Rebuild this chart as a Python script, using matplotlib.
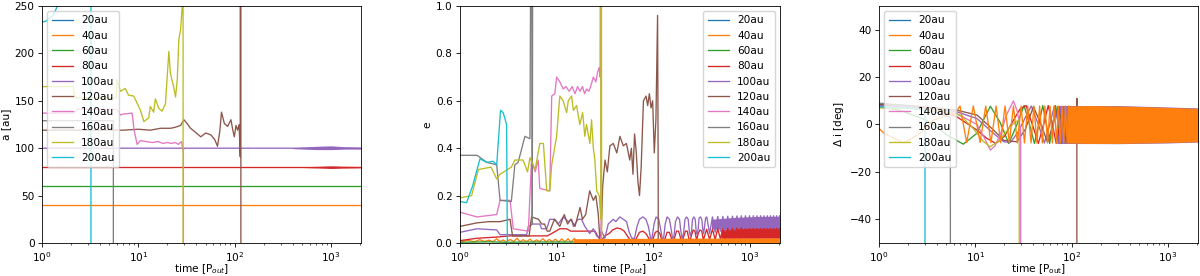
import matplotlib
matplotlib.use('Agg')
import matplotlib.pyplot as plt

# the original looks like a bigger figure shrunk to ~0.76, so scale everything
plt.rcParams['font.size'] = 7.6
plt.rcParams['lines.linewidth'] = 0.95
plt.rcParams['axes.linewidth'] = 0.6
plt.rcParams['axes.labelpad'] = 2.5
for ax_name in ['xtick', 'ytick']:
    plt.rcParams[ax_name + '.major.size'] = 2.7
    plt.rcParams[ax_name + '.minor.size'] = 1.5
    plt.rcParams[ax_name + '.major.width'] = 0.6
    plt.rcParams[ax_name + '.minor.width'] = 0.45
    plt.rcParams[ax_name + '.major.pad'] = 2.6
    plt.rcParams[ax_name + '.minor.pad'] = 2.6

labels = ['20au', '40au', '60au', '80au', '100au', '120au', '140au', '160au', '180au', '200au']
colors = ['C0', 'C1', 'C2', 'C3', 'C4', 'C5', 'C6', 'C7', 'C8', 'C9']
t_end = 2050

# ---------------- semi-major axis a [au] ----------------
a20_t, a20 = [], []
a40_t, a40 = [1, t_end], [40, 40]
a60_t, a60 = [1, t_end], [60, 60]
a80_t, a80 = [1, t_end], [80, 80]
a100_t, a100 = [1, 29, 29.5, 30, t_end], [100, 100, 99, 100, 100]
a120_t = [1, 3, 7, 10, 13.3, 17, 21.6, 24, 27.4, 29.7, 32, 34.8, 40, 44.4, 50, 56.6, 62, 66.2, 70,
          72.8, 78, 84.3, 91.3, 95, 98.9, 103, 107, 111, 114, 115.5, 116]
a120 = [119, 119, 119, 120, 119, 121, 121, 122, 124, 130, 126, 121, 116, 112, 116, 114, 109, 102, 118,
        138, 126, 123, 130, 120, 112, 124, 119, 125, 91, 1e4, -1e4]
a140_t = [1, 2.1, 2.3, 6.0, 6.5, 7.0, 8.6, 9.0, 9.7, 10.5, 12, 14, 16, 18, 20, 22, 24, 26, 28, 28.8, 29.3, 30.5]
a140 = [137, 137, 141, 141, 135, 136, 137, 120, 104, 108, 107, 106, 107, 105, 106, 105, 106, 104, 107, 100, 95, -1e4]
a160_t, a160 = [1, 5.5, 5.6], [129, 129, -1e4]
a180_t = [1, 2.1, 2.2, 5.9, 6.0, 6.5, 7.3, 7.9, 8.95, 10.5, 11.4, 12.8, 13.3, 14.4, 15, 16.3, 17.6, 19.1,
          20.7, 21.5, 23.3, 24.3, 25.3, 26.3, 27.4, 28.5, 29.0, 29.2]
a180 = [165, 165, 153, 153, 172, 160, 163, 156, 155, 140, 128, 132, 144, 138, 152, 142, 139, 147,
        202, 179, 164, 154, 172, 215, 225, 250, 1e4, -1e4]
a200_t, a200 = [1, 1.1, 1.3, 1.48, 1.6, 3.2, 3.24], [233, 234, 240, 252, 400, 1e4, -1e4]

# noisy bits at late times
a100_band_t = [400, 700, 1000, 1400, t_end]
a100_band_lo = [99.5, 98.5, 98.5, 99, 99]
a100_band_hi = [100.5, 102, 102.5, 101.5, 101]
a80_band_t = [500, 800, 1000, 1300, t_end]
a80_band_lo = [79.6, 79, 78.6, 79, 79.3]
a80_band_hi = [80.4, 81, 81.4, 81, 80.7]

# ---------------- eccentricity e ----------------
e20_t, e20 = [], []
e40_t = [1, 1.2, 1.4, 1.6, 1.8, 2.0, 2.2, 2.4, 2.6, 2.8, 3.0, 3.3, 3.6, 3.9, 4.2, 4.5, 4.9, 5.3,
         5.7, 6.2, 6.7, 7.2, 7.8, 8.4, 9.0, 9.7, 10.5, 11.3, 12.2, 13.1, 14.1, 15.2, 16.4]
e40 = [0.004, 0.012, 0.005, 0.014, 0.006, 0.012, 0.005, 0.018, 0.006, 0.013, 0.005, 0.015, 0.006, 0.02,
       0.005, 0.014, 0.006, 0.016, 0.005, 0.013, 0.006, 0.018, 0.005, 0.015, 0.006, 0.016, 0.004, 0.017,
       0.005, 0.018, 0.004, 0.019, 0.005]
e40_band_t = [15, 100, t_end]
e40_band_lo = [0.0, 0.0, 0.0]
e40_band_hi = [0.018, 0.02, 0.021]
e60_t, e60 = [1, 2, 3, 5, t_end], [0.003, 0.005, 0.003, 0.004, 0.004]
e80_t = [1, 1.5, 2.4, 3.3, 5, 8, 8.9, 10.8, 12.7, 14, 18, 25, 26.5, 29, 31.6, 35, 38, 42, 46, 50,
         54, 58, 63, 67, 72, 78, 84, 90, 95, 100, 105, 111, 117, 122, 127, 133, 139, 147, 154, 160,
         167, 174, 183, 192, 200, 208, 215, 225, 233, 240, 250, 259, 270, 281, 292, 304, 318, 330,
         357, 383, 410, 437, 465, 495, 525, 557, 590, 625, 660, 697, 735, 775, 815]
e80 = [0.01, 0.02, 0.025, 0.03, 0.03, 0.03, 0.04, 0.06, 0.06, 0.05, 0.05, 0.05, 0.03, 0.01, 0.03, 0.04,
       0.055, 0.063, 0.06, 0.05, 0.03, 0.01, 0.005, 0.02, 0.045, 0.05, 0.04, 0.02, 0.005, 0.02, 0.045,
       0.05, 0.04, 0.015, 0.005, 0.02, 0.045, 0.045, 0.02, 0.008, 0.025, 0.05, 0.05, 0.02, 0.01, 0.03,
       0.05, 0.05, 0.02, 0.01, 0.035, 0.055, 0.05, 0.012, 0.04, 0.055, 0.05, 0.012,
       0.058, 0.015, 0.058, 0.015, 0.06, 0.018, 0.06, 0.018, 0.062, 0.02, 0.062, 0.02, 0.064, 0.02, 0.064]
e80_band_t = [500, 800, 1200, t_end]
e80_band_lo = [0.02, 0.02, 0.02, 0.02]
e80_band_hi = [0.058, 0.062, 0.065, 0.066]
e100_t = [1, 1.5, 2.4, 2.6, 4.9, 5.1, 5.7, 6.7, 7.0, 7.9, 8.5, 9.6, 10.4, 11.7, 13.2, 14.3, 14.9, 16.7,
          18.1, 19.6, 22, 24, 26, 27.6, 29.2, 31.6, 34.2, 38.6, 41, 45, 49, 53, 56, 60, 64, 68, 72, 78,
          84, 89, 94, 97, 102, 107, 114, 119, 124, 128, 133, 139, 147, 153, 158, 164, 170, 178, 187,
          193, 199, 206, 213, 221, 230, 236, 242, 249, 255, 263, 272, 278, 284, 292, 298, 308, 318,
          325, 332, 340, 348, 358, 383, 410, 437, 465, 495, 525, 557,
          590, 625, 660, 697, 735, 775, 815, 857, 900, 945, 990, 1037, 1085, 1135, 1185, 1237, 1290,
          1345, 1400, 1457, 1515, 1575, 1635, 1697, 1760, 1825, 1890, 1960, 2030]
e100 = [0.045, 0.06, 0.055, 0.035, 0.035, 0.07, 0.08, 0.08, 0.06, 0.06, 0.1, 0.1, 0.08, 0.11, 0.09, 0.1,
        0.07, 0.1, 0.1, 0.07, 0.04, 0.06, 0.03, 0.02, 0.05, 0.02, 0.08, 0.1, 0.09, 0.11, 0.1, 0.09, 0.05,
        0.02, 0.02, 0.07, 0.1, 0.11, 0.1, 0.07, 0.02, 0.02, 0.08, 0.11, 0.1, 0.06, 0.02, 0.02, 0.08,
        0.11, 0.1, 0.06, 0.02, 0.03, 0.09, 0.11, 0.1, 0.05, 0.02, 0.04, 0.1, 0.11, 0.1, 0.05, 0.03,
        0.05, 0.1, 0.11, 0.1, 0.05, 0.035, 0.06, 0.105, 0.11, 0.1, 0.06, 0.04, 0.07, 0.105, 0.11,
        0.04, 0.11, 0.045, 0.112, 0.05, 0.112, 0.05,
        0.113, 0.055, 0.113, 0.055, 0.114, 0.06, 0.115, 0.06, 0.115, 0.06, 0.115, 0.06, 0.115, 0.06,
        0.115, 0.06, 0.115, 0.06, 0.115, 0.06, 0.115, 0.06, 0.115, 0.06, 0.115, 0.06, 0.115, 0.06, 0.115]
e100_band_t = [400, 700, 1200, t_end]
e100_band_lo = [0.06, 0.06, 0.06, 0.06]
e100_band_hi = [0.1, 0.108, 0.112, 0.113]
e120_t = [1, 1.5, 2.0, 2.6, 3.3, 3.5, 5.2, 5.5, 6.5, 7.0, 7.5, 8.0, 8.5, 9.5, 10.8, 12, 13, 14, 15.5,
          17.5, 18.5, 20, 22, 24, 25.5, 27, 28, 29, 30, 31.7, 33.5, 35.6, 38.6, 42, 45.2, 49, 52.8, 57.1,
          59.4, 61.7, 64.1, 66.8, 69.4, 72.1, 75, 79.2, 84.3, 87.6, 91.2, 94.8, 98.6, 102.5, 106.6,
          110.9, 112.5, 113.5]
e120 = [0.07, 0.085, 0.09, 0.09, 0.1, 0.03, 0.03, 0.11, 0.1, 0.08, 0.08, 0.05, 0.05, 0.1, 0.07, 0.12,
        0.08, 0.1, 0.07, 0.15, 0.1, 0.12, 0.22, 0.18, 0.2, 0.12, 0.02, 0.05, 0.24, 0.35, 0.3, 0.41,
        0.42, 0.38, 0.45, 0.41, 0.42, 0.35, 0.4, 0.29, 0.46, 0.38, 0.26, 0.2, 0.32, 0.6, 0.62, 0.58,
        0.63, 0.57, 0.6, 0.38, 0.52, 0.96, 0.3, -1.0]
e140_t = [1, 1.5, 2.4, 2.6, 3.3, 3.56, 5.1, 5.5, 6.0, 6.45, 6.7, 8.5, 8.9, 9.6, 10.0, 10.8, 11.7, 12.5,
          13.5, 14.5, 15.5, 16.5, 17.5, 18.5, 19.5, 20.5, 21.5, 22.5, 24, 25.5, 26.5, 27.6, 28.2, 28.6,
          29.0]
e140 = [0.13, 0.11, 0.12, 0.18, 0.18, 0.06, 0.05, 0.35, 0.3, 0.35, 0.23, 0.22, 0.62, 0.63, 0.70, 0.68,
        0.65, 0.66, 0.64, 0.66, 0.63, 0.66, 0.64, 0.66, 0.63, 0.65, 0.64, 0.66, 0.70, 0.68, 0.72, 0.74,
        0.70, 2.0, -1.0]
e160_t = [1, 1.5, 1.9, 2.4, 2.6, 3.4, 3.7, 4.0, 4.7, 5.3, 5.5, 5.6, 5.7, 5.8]
e160 = [0.37, 0.37, 0.34, 0.33, 0.18, 0.175, 0.33, 0.34, 0.45, 0.44, 2.0, 0.08, 2.0, 2.0]
e180_t = [1, 1.32, 1.55, 2.1, 2.4, 2.6, 3.4, 3.7, 4.5, 5.0, 5.3, 6.0, 6.7, 7.3, 7.9, 8.5, 8.9, 10.0,
          10.8, 11.7, 12.7, 13.2, 14.3, 14.9, 16.1, 17.4, 18.6, 19.6, 20.4, 22.1, 23.0, 24.0, 24.9,
          26.0, 27.6, 28.7, 29.0, 29.4]
e180 = [0.19, 0.2, 0.31, 0.32, 0.27, 0.29, 0.32, 0.35, 0.35, 0.30, 0.36, 0.31, 0.42, 0.42, 0.22, 0.22,
        0.33, 0.45, 0.62, 0.6, 0.55, 0.6, 0.62, 0.56, 0.58, 0.5, 0.55, 0.45, 0.5, 0.42, 0.52, 0.4, 0.35,
        0.22, 0.2, 0.1, 2.0, -1.0]
e200_t = [1, 1.17, 1.35, 1.61, 1.9, 2.2, 2.4, 2.63, 2.8, 3.04, 3.2]
e200 = [0.175, 0.17, 0.24, 0.355, 0.34, 0.345, 0.33, 0.56, 0.55, 0.5, -1.0]

# ---------------- inclination change delta i [deg] ----------------
i20_t, i20 = [], []
i40_t = [1, 1.13, 1.8, 2.66, 3.66, 5.04, 6.13, 6.93, 8.12, 9.52, 11.2, 12.8, 14.5, 16.4, 18.3, 20.3,
         22.5, 24.8, 27.3, 29.8, 32.3, 34.9, 37.8, 40.5, 43.5, 46.4, 49.5, 52.7, 56.2, 59.5, 62.9,
         65.9, 69.6, 72.5, 76, 79.2, 82.6, 86, 89.5, 93]
i40 = [-1.7, -3.7, -7.8, -3.8, 1.8, 3.9, 4.6, 7.8, -7.6, 7.8, -7.6, 7.8, -7.7, 7.8, -7.7, 7.8, -7.7,
       7.8, -7.8, 7.8, -7.8, 7.8, -7.8, 7.8, -7.8, 7.8, -7.8, 7.8, -7.8, 7.8, -7.8, 7.8, -7.8, 7.8,
       -7.8, 7.8, -7.8, 7.8, -7.8, 7.8]
i40_band_t = [90, 150, 300, 600, 1000, t_end]
i40_band_lo = [-7.8, -8.0, -8.0, -7.8, -7.6, -7.3]
i40_band_hi = [7.8, 8.0, 7.8, 7.5, 7.2, 6.8]
i60_t = [1, 1.65, 3.12, 5.46, 7.5, 10.3, 14.3, 18, 22.2, 27, 32, 36.5, 41, 45.5, 50, 54.5, 59, 63.5,
         68, 72.5, 77]
i60 = [7.4, 6.0, 1.8, -5.2, -8.3, -3.8, 7.7, 1.0, -8.0, 0.0, 8.0, 0.0, -8.0, 0.0, 8.0, 0.0, -8.0, 0.0,
       8.0, 0.0, -8.0]
i80_t = [1, 2, 4, 6.45, 10.4, 13.2, 16.4, 20, 25, 29, 33.5, 39, 45, 51, 57, 63, 69, 75]
i80 = [8.1, 7.5, 6.0, 3.2, -2.4, -5.9, -8.0, -5.0, 2.0, 6.5, 8.0, 0.0, -8.0, 0.0, 8.0, 0.0, -8.0, 0.0]
i100_t = [1, 2, 4, 6.45, 10.4, 15.5, 19.7, 23.1, 28, 33, 38, 45, 52, 59, 66, 73]
i100 = [8.0, 7.6, 6.5, 5.3, 2.5, -3.8, -7.3, -7.6, -3.0, 3.0, 7.8, 0.0, -7.8, 0.0, 7.8, 0.0]
i120_t = [1, 2, 4, 6.45, 10.4, 15.5, 19.7, 27, 33, 40, 48, 56, 64, 72, 80, 88, 96, 104, 110, 112,
          113, 113.5]
i120 = [8.5, 8.0, 7.0, 6.0, 4.0, -2.4, -6.7, -7.3, -2.0, 7.5, 0.0, -7.5, 0.0, 7.5, 0.0, -7.5, 0.0,
        7.5, 0.0, 5.0, 11.0, -1e4]
i140_t = [1, 2, 4, 6.45, 10.4, 12.5, 14.3, 16, 18.3, 21, 24.8, 27, 29.5, 30.3]
i140 = [7.5, 7.2, 6.2, 4.5, 0.0, -6.0, -10.8, -9.0, -3.8, 4.0, 9.9, 6.0, -2.0, -1e4]
i160_t, i160 = [1, 2, 4, 5.5, 5.82], [9.0, 8.0, 5.0, 3.0, -1e4]
i180_t = [1, 2, 4, 6.93, 9.52, 12, 14.2, 18, 22.8, 26, 28.5, 29.1]
i180 = [7.0, 6.8, 6.0, 4.0, -1.7, -7.0, -9.4, -6.6, -1.0, 1.0, 2.0, -1e4]
i200_t, i200 = [1, 2, 3.0, 3.12], [7.5, 7.0, 6.0, -1e4]
# late-time libration of the others (mostly hidden under the 40au band)
i_band_t = [70, 300, 1000, t_end]
i_band_lo = [-8.0, -8.1, -7.8, -7.4]
i_band_hi = [8.0, 8.0, 7.4, 7.0]

a_series = [(a20_t, a20), (a40_t, a40), (a60_t, a60), (a80_t, a80), (a100_t, a100),
            (a120_t, a120), (a140_t, a140), (a160_t, a160), (a180_t, a180), (a200_t, a200)]
e_series = [(e20_t, e20), (e40_t, e40), (e60_t, e60), (e80_t, e80), (e100_t, e100),
            (e120_t, e120), (e140_t, e140), (e160_t, e160), (e180_t, e180), (e200_t, e200)]
i_series = [(i20_t, i20), (i40_t, i40), (i60_t, i60), (i80_t, i80), (i100_t, i100),
            (i120_t, i120), (i140_t, i140), (i160_t, i160), (i180_t, i180), (i200_t, i200)]

fig = plt.figure(figsize=(12, 2.76), dpi=100)
ax1 = fig.add_axes([0.035, 0.1196, 0.266, 0.8587])
ax2 = fig.add_axes([0.3833, 0.1196, 0.2667, 0.8587])
ax3 = fig.add_axes([0.7325, 0.1196, 0.266, 0.8587])

# a panel
for (t, v), lab, c in zip(a_series, labels, colors):
    ax1.plot(t, v, color=c, label=lab)
ax1.fill_between(a80_band_t, a80_band_lo, a80_band_hi, color='C3', lw=0, zorder=2)
ax1.fill_between(a100_band_t, a100_band_lo, a100_band_hi, color='C4', lw=0, zorder=2)
ax1.set_ylim(0, 250)
ax1.set_ylabel('a [au]')
ax1.legend(loc='upper left')

# e panel
ax2.fill_between(e100_band_t, e100_band_lo, e100_band_hi, color='C4', lw=0, zorder=1.5)
ax2.fill_between(e80_band_t, e80_band_lo, e80_band_hi, color='C3', lw=0, zorder=1.6)
for (t, v), lab, c in zip(e_series, labels, colors):
    ax2.plot(t, v, color=c, label=lab)
ax2.fill_between(e40_band_t, e40_band_lo, e40_band_hi, color='C1', lw=0, zorder=2.5)
ax2.set_ylim(0, 1)
ax2.set_ylabel('e')
ax2.legend(loc='upper right')

# delta i panel
ax3.fill_between(i_band_t, i_band_lo, i_band_hi, color='C4', lw=0, zorder=1.5)
for (t, v), lab, c in zip(i_series, labels, colors):
    z = 2.5 if lab == '40au' else 2
    ax3.plot(t, v, color=c, label=lab, zorder=z)
ax3.fill_between(i40_band_t, i40_band_lo, i40_band_hi, color='C1', lw=0, zorder=2.5)
ax3.set_ylim(-50, 50)
ax3.set_ylabel(r'$\Delta$ i [deg]')
ax3.legend(loc='upper left')

for ax in [ax1, ax2]:
    ax.set_xlabel('time [P$_{out}$]')
ax3.set_xlabel(r'time [P$_{\rm out}$]')
for ax in [ax1, ax2, ax3]:
    ax.set_xscale('log')
    ax.set_xlim(1, t_end)
    # pull the label up so the subscript stays inside the figure
    ax.xaxis.set_label_coords(0.5, -0.082)

fig.savefig('out.png', dpi=100)
